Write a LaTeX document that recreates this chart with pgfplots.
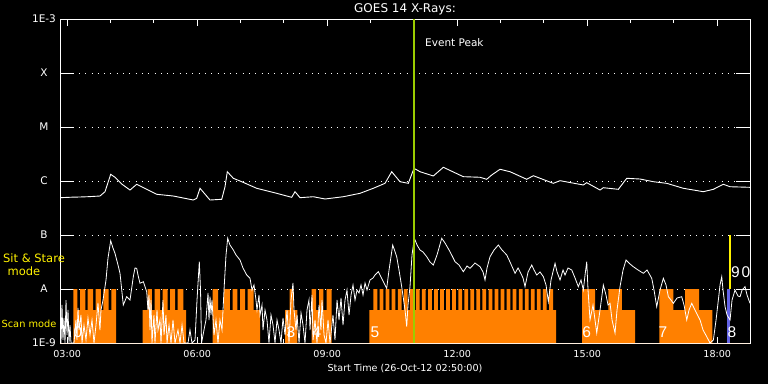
\documentclass[border=0pt]{standalone}
\usepackage{pgfplots}
\pgfplotsset{compat=1.18}
\usepackage{fontspec}
\setmainfont{DejaVu Sans}
\newfontfamily\lib{Liberation Sans}
\definecolor{orangeC}{RGB}{255,128,0}
\definecolor{peakC}{RGB}{155,205,0}
\definecolor{blueC}{RGB}{100,100,230}
\begin{document}
\begin{tikzpicture}[x=1pt,y=1pt]
\fill[black] (0,0) rectangle (768,384);
\begin{axis}[
  at={(60pt,41pt)}, anchor=south west,
  scale only axis, width=690pt, height=324pt,
  xmin=2.8333, xmax=18.7556, ymin=-9, ymax=-3,
  xtick={3,6,9,12,15,18},
  xticklabels={03:00,06:00,09:00,12:00,15:00,18:00},
  minor xtick={4,5,7,8,10,11,13,14,16,17},
  ytick={-9,-8,-7,-6,-5,-4,-3},
  yticklabels={1E-9,A,B,C,M,X,1E-3},
  axis line style={white, line width=1pt},
  xtick style={white, line width=1pt, /pgfplots/major tick length=6.5pt, /pgfplots/minor tick length=4pt},
  ytick style={white, line width=1pt, /pgfplots/major tick length=14pt},
  tick label style={text=white, font=\fontsize{9.6}{11}\selectfont},
  yticklabel style={anchor=center, xshift=-16pt, font=\fontsize{10.5}{12}\selectfont},
  xticklabel style={yshift=-3.5pt},
  ymajorgrids,
  major grid style={white, line width=0.9pt, dash pattern=on 0.9pt off 5.4pt},
  clip=true,
]
% instrument mode profile (orange)
\addplot[const plot, fill=orangeC, draw=none] coordinates {
(2.833,-9)(3.140,-8)(3.233,-8.389)(3.295,-8)(3.417,-8.389)(3.468,-8)(3.595,-8.389)(3.653,-8)(3.779,-8.389)(3.837,-8)(3.957,-8.389)(4.017,-8)(4.126,-9)
(4.742,-8.389)(4.857,-8)(4.956,-8.389)(5.014,-8)(5.141,-8.389)(5.199,-8)(5.314,-8.389)(5.372,-8)(5.487,-8.389)(5.545,-8)(5.683,-8.389)(5.741,-9)
(6.357,-8)(6.480,-8.389)(6.618,-8)(6.756,-8.389)(6.814,-8)(6.929,-8.389)(6.987,-8)(7.103,-8.389)(7.160,-8)(7.299,-8.389)(7.449,-9)
(8.026,-8.389)(8.130,-8)(8.217,-8.389)(8.310,-9)
(8.642,-8)(8.741,-8.389)(8.810,-8)(8.909,-8.389)(8.988,-8)(9.103,-9)
(9.971,-8.389)(10.064,-8)
(10.156,-8.389)(10.209,-8)(10.296,-8.389)(10.349,-8)(10.435,-8.389)(10.488,-8)(10.575,-8.389)(10.628,-8)
(10.714,-8.389)(10.767,-8)(10.854,-8.389)(10.907,-8)(10.994,-8.389)(11.047,-8)(11.133,-8.389)(11.186,-8)
(11.273,-8.389)(11.326,-8)(11.412,-8.389)(11.465,-8)(11.552,-8.389)(11.605,-8)(11.692,-8.389)(11.745,-8)
(11.831,-8.389)(11.884,-8)(11.971,-8.389)(12.024,-8)(12.110,-8.389)(12.163,-8)(12.250,-8.389)(12.303,-8)
(12.390,-8.389)(12.443,-8)(12.529,-8.389)(12.582,-8)(12.669,-8.389)(12.722,-8)(12.808,-8.389)(12.861,-8)
(12.948,-8.389)(13.001,-8)(13.088,-8.389)(13.141,-8)(13.227,-8.389)(13.280,-8)(13.367,-8.389)(13.420,-8)
(13.506,-8.389)(13.559,-8)(13.646,-8.389)(13.699,-8)(13.786,-8.389)(13.839,-8)(13.925,-8.389)(13.978,-8)
(14.065,-8.389)(14.118,-8)(14.211,-8.389)(14.280,-9)
(14.880,-8)(15.180,-8.389)(15.487,-8)(15.796,-8.389)(16.103,-9)
(16.664,-8)(16.987,-8.389)(17.257,-8)(17.580,-8.389)(17.886,-9)
(18.756,-9)};
% sit & stare markers
\addplot[fill=blueC, draw=none] coordinates {(18.233,-9)(18.233,-8)(18.295,-8)(18.295,-9)};
\addplot[fill=yellow, draw=none] coordinates {(18.272,-8)(18.272,-7)(18.325,-7)(18.325,-8)};
% long channel
\addplot[white, line width=0.9pt] coordinates {
(2.833,-6.309)(3.10,-6.300)(3.30,-6.296)(3.50,-6.290)(3.756,-6.278)(3.872,-6.198)(4.003,-5.876)(4.102,-5.931)(4.257,-6.056)(4.449,-6.167)(4.603,-6.061)(4.834,-6.154)(5.065,-6.246)(5.448,-6.278)(5.909,-6.352)(5.988,-6.320)(6.064,-6.135)(6.163,-6.228)(6.295,-6.352)(6.565,-6.339)(6.641,-6.106)(6.694,-5.828)(6.833,-5.950)(7.026,-6.013)(7.372,-6.135)(7.834,-6.228)(8.180,-6.302)(8.256,-6.198)(8.372,-6.309)(8.678,-6.291)(8.948,-6.333)(9.371,-6.291)(9.756,-6.228)(10.063,-6.135)(10.333,-6.043)(10.488,-5.828)(10.679,-6.013)(10.871,-6.043)(11.002,-5.765)(11.141,-5.828)(11.448,-5.907)(11.679,-5.746)(12.140,-5.920)(12.525,-5.931)(12.680,-5.968)(12.795,-5.889)(12.987,-5.783)(13.218,-5.828)(13.603,-5.968)(13.756,-5.902)(14.217,-6.043)(14.372,-5.994)(14.910,-6.074)(14.988,-6.031)(15.295,-6.167)(15.371,-6.124)(15.717,-6.154)(15.911,-5.950)(16.218,-5.963)(16.525,-6.013)(16.834,-6.043)(17.217,-6.135)(17.679,-6.198)(17.910,-6.154)(18.140,-6.061)(18.295,-6.106)(18.756,-6.117)};
% short channel
\addplot[white, line width=0.8pt] coordinates {
(2.833,-8.759)(2.856,-9)(2.879,-8.296)(2.902,-8.944)(2.925,-8.537)(2.949,-9)(2.972,-8.204)(2.995,-8.852)(3.018,-8.389)(3.041,-9)(3.064,-8.667)(3.087,-9)(3.156,-9)(3.202,-8.574)(3.225,-8.944)(3.249,-8.352)(3.272,-8.759)(3.318,-8.481)(3.341,-9)(3.387,-8.667)(3.433,-8.944)(3.479,-8.537)(3.526,-8.852)(3.572,-8.574)(3.618,-9)(3.664,-8.667)(3.710,-8.259)(3.756,-8.759)(3.779,-8.389)(3.826,-8.204)(3.895,-7.833)(3.941,-7.426)(4.003,-7.106)(4.056,-7.241)(4.102,-7.339)(4.172,-7.556)(4.218,-7.709)(4.294,-8.296)(4.372,-8.143)(4.449,-8.204)(4.525,-7.772)(4.564,-7.611)(4.603,-7.617)(4.633,-7.741)(4.679,-7.894)(4.756,-7.865)(4.834,-8.050)
(4.864,-8.389)(4.887,-8.111)(4.910,-8.759)(4.933,-8.204)(4.956,-9)(5.002,-8.481)(5.025,-9)(5.072,-8.389)(5.095,-8.759)(5.141,-8.574)(5.164,-9)(5.210,-8.204)(5.233,-8.852)(5.279,-8.481)(5.303,-9)(5.349,-8.667)(5.395,-9)(5.441,-8.574)(5.487,-9)(5.556,-8.759)(5.603,-9)(5.649,-8.667)(5.695,-9)(5.787,-9)(5.833,-8.759)(5.879,-9)(5.949,-8.944)(5.995,-8.204)(6.048,-7.494)(6.076,-8.019)(6.099,-9)(6.156,-8.759)(6.202,-8.574)(6.249,-8.074)(6.272,-8.574)(6.295,-8.143)(6.318,-8.481)(6.341,-8.204)(6.387,-8.852)(6.433,-8.574)(6.479,-9)(6.525,-8.574)(6.572,-8.759)(6.618,-8.019)(6.664,-7.370)(6.703,-7.061)(6.756,-7.185)(6.833,-7.278)(6.895,-7.370)(6.987,-7.463)(7.056,-7.611)(7.142,-7.741)(7.218,-7.802)
(7.264,-8.019)(7.310,-7.926)(7.356,-8.204)(7.379,-8.389)(7.426,-8.111)(7.449,-8.481)(7.495,-8.296)(7.518,-8.759)(7.564,-8.389)(7.610,-8.574)(7.656,-9)(7.702,-8.481)(7.749,-8.667)(7.795,-9)(7.841,-8.574)(7.887,-8.759)(7.933,-9)(7.979,-8.537)(8.026,-8.852)(8.072,-8.389)(8.118,-9)(8.164,-8.204)(8.210,-7.889)(8.233,-8.389)(8.279,-8.759)(8.303,-8.481)(8.349,-9)(8.395,-8.444)(8.441,-8.667)(8.487,-9)(8.533,-8.389)(8.579,-8.204)(8.603,-8.759)(8.649,-8.111)(8.672,-8.944)(8.718,-8.574)(8.764,-9)(8.810,-8.296)(8.856,-8.759)(8.879,-8.204)(8.926,-8.852)(8.972,-9)(9.018,-8.574)(9.064,-9)(9.133,-8.481)(9.179,-8.944)(9.226,-8.204)(9.272,-8.574)(9.318,-8.167)(9.364,-8.667)(9.410,-8.204)(9.456,-8.019)(9.503,-8.481)(9.549,-8.111)(9.595,-7.926)(9.641,-8.204)(9.687,-8.019)(9.733,-8.074)(9.779,-7.926)(9.826,-8.111)(9.872,-7.889)(9.918,-8.019)
(9.987,-7.833)(10.056,-7.796)(10.102,-7.741)(10.179,-7.680)(10.241,-7.778)(10.294,-7.865)(10.372,-7.987)(10.426,-7.648)(10.511,-7.185)(10.603,-7.402)(10.656,-7.648)(10.718,-7.957)(10.795,-8.389)(10.834,-8.698)(10.864,-8.296)(10.910,-7.957)(10.956,-7.370)(11.010,-7.061)(11.072,-7.185)(11.141,-7.278)(11.210,-7.315)(11.296,-7.402)(11.372,-7.500)(11.448,-7.556)(11.533,-7.370)(11.642,-7.061)(11.718,-7.148)(11.833,-7.309)(11.949,-7.494)(12.041,-7.556)(12.140,-7.680)(12.226,-7.574)(12.295,-7.617)(12.410,-7.519)(12.526,-7.587)(12.595,-7.685)(12.641,-7.833)(12.687,-7.611)(12.756,-7.402)(12.849,-7.278)(12.948,-7.185)(13.033,-7.278)(13.142,-7.370)(13.218,-7.500)(13.334,-7.709)(13.403,-7.611)(13.449,-7.680)(13.518,-7.796)(13.564,-7.957)(13.634,-7.685)(13.719,-7.556)(13.772,-7.648)(13.834,-7.741)(13.910,-7.685)(13.987,-7.772)(14.049,-7.926)(14.102,-8.235)(14.164,-7.833)(14.257,-7.524)(14.303,-7.685)(14.372,-7.833)(14.441,-7.648)(14.487,-7.741)(14.556,-7.611)(14.642,-7.648)(14.718,-7.796)(14.794,-7.957)(14.856,-7.833)(14.910,-8.019)(14.949,-7.741)(14.988,-7.494)(15.018,-8.019)(15.064,-8.574)(15.133,-8.296)(15.219,-8.815)(15.295,-8.389)(15.371,-7.926)(15.433,-8.111)(15.479,-8.296)(15.526,-8.265)(15.572,-8.574)(15.641,-8.815)(15.687,-8.389)(15.756,-7.957)(15.826,-7.648)(15.895,-7.463)(15.987,-7.537)(16.063,-7.587)(16.172,-7.648)(16.295,-7.709)(16.380,-7.648)(16.488,-7.802)(16.541,-8.019)(16.603,-8.328)(16.679,-8.019)(16.756,-7.802)(16.818,-7.926)(16.872,-8.143)(16.933,-8.204)(16.987,-8.265)(17.072,-8.167)(17.180,-8.143)(17.233,-8.296)(17.296,-8.574)(17.349,-8.389)(17.411,-8.265)(17.487,-8.389)(17.603,-8.574)(17.672,-8.759)(17.757,-8.883)(17.833,-9)(17.910,-8.944)(17.972,-8.574)(18.025,-8.204)(18.064,-7.926)(18.103,-7.772)(18.133,-8.019)(18.180,-8.328)(18.226,-8.481)(18.295,-8.574)(18.341,-8.204)(18.410,-8.019)(18.479,-8.130)(18.526,-8.143)(18.572,-8.019)(18.641,-7.957)(18.687,-8.111)(18.756,-8.265)};
% event peak
\addplot[peakC, line width=2.2pt] coordinates {(11.010,-9)(11.010,-3)};
\node[anchor=west, text=white, inner sep=0pt, font=\fontsize{10.5}{12}\selectfont] at (axis cs:11.256,-3.435) {Event Peak};
% segment numbers
\begin{scope}[every node/.style={text=white, inner sep=0pt, font=\lib\fontsize{15.5}{17}\selectfont}]
\node at (axis cs:3.249,-8.806) {0};
\node at (axis cs:8.164,-8.806) {3};
\node at (axis cs:8.764,-8.806) {4};
\node at (axis cs:10.102,-8.806) {5};
\node at (axis cs:14.988,-8.806) {6};
\node at (axis cs:16.749,-8.806) {7};
\node at (axis cs:18.341,-8.806) {8};
\node at (axis cs:18.422,-7.694) {9};
\node at (axis cs:18.664,-7.694) {0};
\end{scope}
\end{axis}
\node[text=white, font=\fontsize{12}{14}\selectfont] at (405,374.5) {GOES 14 X-Rays:};
\node[text=white, font=\fontsize{9.6}{11}\selectfont] at (405,16) {Start Time (26-Oct-12 02:50:00)};
\node[text=yellow, font=\fontsize{11.5}{13}\selectfont] at (34,126) {Sit \& Stare};
\node[text=yellow, font=\fontsize{11.5}{13}\selectfont] at (24,113) {mode};
\node[text=yellow, font=\fontsize{9.8}{12}\selectfont, inner sep=0pt] at (29,60) {Scan mode};
\pgfresetboundingbox
\path[use as bounding box] (0,0) rectangle (768,384);
\end{tikzpicture}
\end{document}
